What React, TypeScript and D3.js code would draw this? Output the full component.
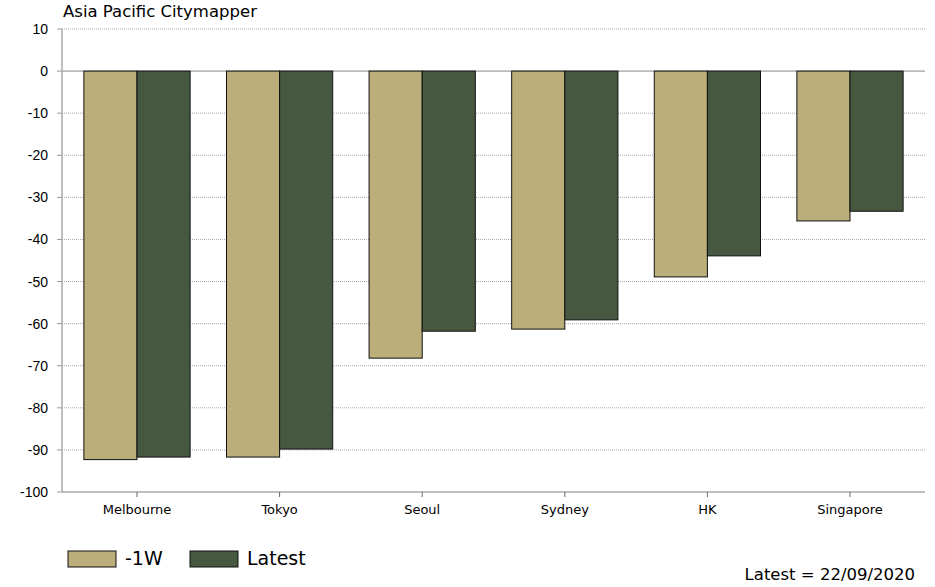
import React from "react";
import * as d3 from "d3";

const categories = ["Melbourne", "Tokyo", "Seoul", "Sydney", "HK", "Singapore"];
const seriesNames = ["-1W", "Latest"];
const prevWeek = [-92.3, -91.7, -68.2, -61.3, -48.9, -35.6];
const latest = [-91.7, -89.8, -61.8, -59.1, -43.9, -33.3];
const yTicks = [10, 0, -10, -20, -30, -40, -50, -60, -70, -80, -90, -100];
const colors = ["#BCAE7A", "#465940"];

export default function App() {
  const W = 935, H = 587;
  const left = 62, right = 925, top = 29, bottom = 492;
  const y = d3.scaleLinear().domain([-100, 10]).range([bottom, top]);
  const x = d3.scaleBand().domain(categories).range([65.7, 921.3]).paddingInner(0.255).paddingOuter(0.1275);
  const inner = d3.scaleBand().domain(seriesNames).range([0, x.bandwidth()]);
  const series = [prevWeek, latest];
  const font = "'DejaVu Sans', Verdana, sans-serif";
  return (
    <svg width={W} height={H} style={{ position: "absolute", left: 0, top: 0 }}>
      <rect width={W} height={H} fill="#fff" />
      <text x={63} y={17} fontFamily={font} fontSize={16.5} fill="#000">Asia Pacific Citymapper</text>
      {yTicks.map((t) => (
        <g key={t}>
          {t !== -100 && (
            <line x1={left} x2={right} y1={y(t)} y2={y(t)} stroke={t === 0 ? "#888" : "#aaa"} strokeWidth={1} strokeDasharray={t === 0 ? undefined : "1,1"} />
          )}
          <line x1={left - 5} x2={left} y1={y(t)} y2={y(t)} stroke="#999" />
          <text x={left - 14} y={y(t) + 5} textAnchor="end" fontFamily="'Liberation Sans', Arial, sans-serif" fontSize={14} fill="#000">{t}</text>
        </g>
      ))}
      {categories.map((c, i) =>
        series.map((s, j) => {
          const v = s[i];
          const x0 = (x(c) as number) + (inner(seriesNames[j]) as number);
          return (
            <rect key={c + j} x={x0} y={y(0)} width={inner.bandwidth()} height={y(v) - y(0)} fill={colors[j]} stroke="#111" strokeWidth={1} />
          );
        })
      )}
      <line x1={left} x2={left} y1={top} y2={bottom} stroke="#aaa" strokeWidth={1.5} />
      <line x1={left} x2={right} y1={bottom} y2={bottom} stroke="#aaa" strokeWidth={1.5} />
      {categories.map((c) => {
        const cx = (x(c) as number) + x.bandwidth() / 2;
        return (
          <g key={c}>
            <line x1={cx} x2={cx} y1={bottom} y2={bottom + 5} stroke="#666" />
            <text x={cx} y={514} textAnchor="middle" fontFamily={font} fontSize={13} fill="#000">{c}</text>
          </g>
        );
      })}
      {seriesNames.map((n, j) => (
        <g key={n} transform={`translate(${68 + j * 122},551)`}>
          <rect x={0} y={0} width={48} height={16} fill={colors[j]} stroke="#111" strokeWidth={1} />
          <text x={57} y={14} fontFamily={font} fontSize={19} fill="#000">{n}</text>
        </g>
      ))}
      <text x={915} y={580} textAnchor="end" fontFamily={font} fontSize={16.5} fill="#000">Latest = 22/09/2020</text>
    </svg>
  );
}
